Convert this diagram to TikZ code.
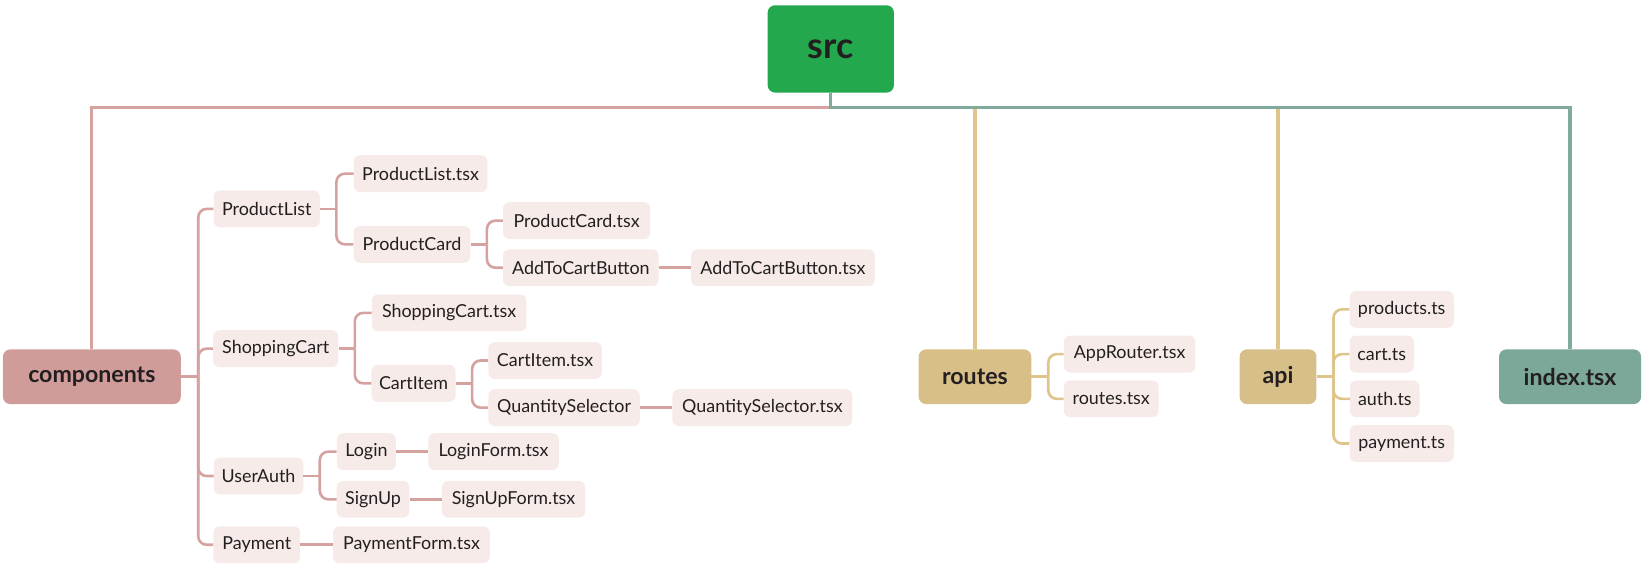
\documentclass[tikz,border=0pt]{standalone}
\usepackage{fontspec}
\setmainfont{Lato}
\usetikzlibrary{calc}
\definecolor{txt}{HTML}{231F20}
\definecolor{srcfill}{HTML}{24A84E}
\definecolor{compfill}{HTML}{D09C9A}
\definecolor{routesfill}{HTML}{D8BF88}
\definecolor{apifill}{HTML}{D6BF88}
\definecolor{indexfill}{HTML}{7BA898}
\definecolor{leaffill}{HTML}{F6EBE8}
\definecolor{pinkline}{HTML}{D6A2A0}
\definecolor{tealline}{HTML}{7FAA9C}
\definecolor{yellowline}{HTML}{DFC48C}
\begin{document}
\begin{tikzpicture}[x=1pt,y=-1pt,
  mainbox/.style={rounded corners=7pt, minimum height=52pt, inner sep=0pt, text=txt, font=\fontsize{22}{26}\selectfont\bfseries},
  leaf/.style={fill=leaffill, rounded corners=6pt, minimum height=35pt, inner sep=0pt, text=txt, font=\fontsize{17}{20}\selectfont},
  topline/.style={line width=3pt},
  cl/.style={draw=pinkline, line width=2.5pt},
  yl/.style={draw=yellowline, line width=2.5pt},
  branch/.style={rounded corners=8pt}
]
\useasboundingbox (0,0) rectangle (1568,545);

% main nodes
\node[mainbox, fill=srcfill, minimum width=120pt, minimum height=83pt, font=\fontsize{34}{40}\selectfont\bfseries] (src) at (789.5,46.5) {src};
\node[mainbox, fill=compfill, minimum width=169pt] (comp) at (87.3,358) {components};
\node[mainbox, fill=routesfill, minimum width=107pt] (routes) at (926.5,358) {routes};
\node[mainbox, fill=apifill, minimum width=73pt] (api) at (1214.5,358) {api};
\node[mainbox, fill=indexfill, minimum width=135pt] (index) at (1492,358) {index.tsx};

\coordinate (top) at (789.5,102);

% top connectors
\draw[yellowline, topline] (routes.north) -- (routes.north |- top);
\draw[yellowline, topline] (api.north) -- (api.north |- top);
\draw[pinkline, topline] (comp.north) |- (top);
\draw[tealline, topline] (src.south) -- (top) -| (index.north);

% components subtree
\node[leaf, minimum width=101pt] (pl) at (253.5,198.5) {ProductList};
\node[leaf, minimum width=127pt] (plt) at (399.7,165) {ProductList.tsx};
\node[leaf, minimum width=111pt] (pc) at (391.5,232.2) {ProductCard};
\node[leaf, minimum width=140pt] (pct) at (548,209.7) {ProductCard.tsx};
\node[leaf, minimum width=148pt] (atc) at (552,254.4) {AddToCartButton};
\node[leaf, minimum width=174.6pt] (atct) at (744,254.4) {AddToCartButton.tsx};

\node[leaf, minimum width=119pt] (sc) at (262,331.3) {ShoppingCart};
\node[leaf, minimum width=147pt] (sct) at (426.8,297.3) {ShoppingCart.tsx};
\node[leaf, minimum width=80pt] (ci) at (393,364.3) {CartItem};
\node[leaf, minimum width=108pt] (cit) at (518,342.6) {CartItem.tsx};
\node[leaf, minimum width=144pt] (qs) at (536,387.4) {QuantitySelector};
\node[leaf, minimum width=171pt] (qst) at (724.5,387.4) {QuantitySelector.tsx};

\node[leaf, minimum width=85pt] (ua) at (245.7,452.4) {UserAuth};
\node[leaf, minimum width=56pt] (li) at (348.2,429.2) {Login};
\node[leaf, minimum width=124pt] (lit) at (469,429.2) {LoginForm.tsx};
\node[leaf, minimum width=69pt] (su) at (354.5,474.5) {SignUp};
\node[leaf, minimum width=136pt] (sut) at (488,474.5) {SignUpForm.tsx};

\node[leaf, minimum width=82.5pt] (pay) at (244,517.7) {Payment};
\node[leaf, minimum width=149pt] (payt) at (391,517.7) {PaymentForm.tsx};

% routes subtree
\node[leaf, minimum width=125pt] (ar) at (1073.5,336.5) {AppRouter.tsx};
\node[leaf, minimum width=90pt] (rt) at (1056,379) {routes.tsx};

% api subtree
\node[leaf, minimum width=99pt] (prt) at (1332,294) {products.ts};
\node[leaf, minimum width=61pt] (cat) at (1313,336.5) {cart.ts};
\node[leaf, minimum width=66pt] (aut) at (1316,379) {auth.ts};
\node[leaf, minimum width=99pt] (pat) at (1332,421.5) {payment.ts};

% component connectors
\draw[cl] (comp.east) -- ++(16.4,0) coordinate (cb);
\draw[cl, branch] (cb) |- (pl.west);
\draw[cl, branch] (cb) |- (sc.west);
\draw[cl, branch] (cb) |- (ua.west);
\draw[cl, branch] (cb) |- (pay.west);

\draw[cl] (pl.east) -- ++(15.5,0) coordinate (plb);
\draw[cl, branch] (plb) |- (plt.west);
\draw[cl, branch] (plb) |- (pc.west);

\draw[cl] (pc.east) -- ++(15.5,0) coordinate (pcb);
\draw[cl, branch] (pcb) |- (pct.west);
\draw[cl, branch] (pcb) |- (atc.west);
\draw[cl] (atc.east) -- (atct.west);

\draw[cl] (sc.east) -- ++(15.5,0) coordinate (scb);
\draw[cl, branch] (scb) |- (sct.west);
\draw[cl, branch] (scb) |- (ci.west);

\draw[cl] (ci.east) -- ++(15.5,0) coordinate (cib);
\draw[cl, branch] (cib) |- (cit.west);
\draw[cl, branch] (cib) |- (qs.west);
\draw[cl] (qs.east) -- (qst.west);

\draw[cl] (ua.east) -- ++(15.5,0) coordinate (uab);
\draw[cl, branch] (uab) |- (li.west);
\draw[cl, branch] (uab) |- (su.west);
\draw[cl] (li.east) -- (lit.west);
\draw[cl] (su.east) -- (sut.west);

\draw[cl] (pay.east) -- (payt.west);

% routes connectors
\draw[yl] (routes.east) -- ++(16,0) coordinate (rb);
\draw[yl, branch] (rb) |- (ar.west);
\draw[yl, branch] (rb) |- (rt.west);

% api connectors
\draw[yl] (api.east) -- ++(16,0) coordinate (ab);
\draw[yl, branch] (ab) |- (prt.west);
\draw[yl, branch] (ab) |- (cat.west);
\draw[yl, branch] (ab) |- (aut.west);
\draw[yl, branch] (ab) |- (pat.west);
\end{tikzpicture}
\end{document}
